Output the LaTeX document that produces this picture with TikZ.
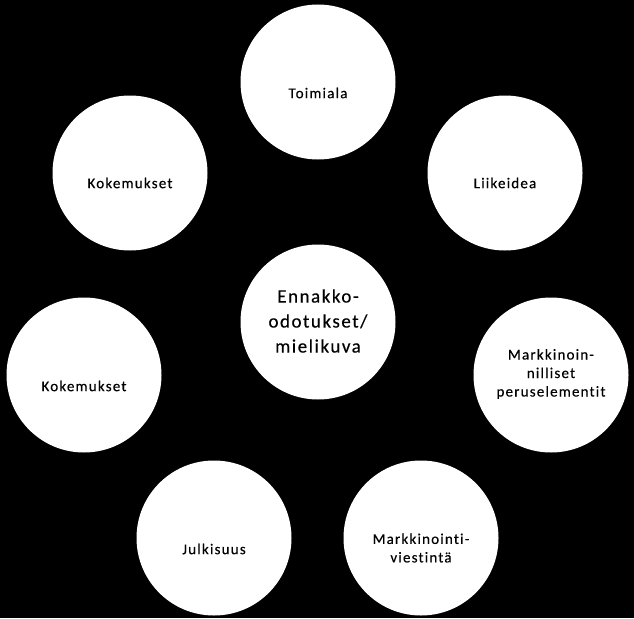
\documentclass[tikz,border=0pt]{standalone}
\usepackage{fontspec}
\setmainfont{Carlito}[LetterSpace=8,Ligatures=NoCommon,FakeBold=0.3]
\tikzstyle{ympyra}=[circle,fill=white,minimum size=155pt,inner sep=0pt]
\tikzstyle{teksti}=[font=\fontsize{15}{18.5}\selectfont,align=center,text=black,inner sep=0pt]
\tikzstyle{keskiteksti}=[font=\fontsize{19}{25}\selectfont,align=center,text=black,inner sep=0pt]

\begin{document}
\begin{tikzpicture}[x=1pt,y=-1pt]
    \fill[black] (0,0) rectangle (634,618);
    % ympyrat
    \node[ympyra] (toimiala) at (318,82) {};
    \node[ympyra] (kokemukset1) at (130,173) {};
    \node[ympyra] (liikeidea) at (505,173) {};
    \node[ympyra] (keski) at (318,322) {};
    \node[ympyra] (kokemukset2) at (84,375) {};
    \node[ympyra] (markkinoin) at (551,375) {};
    \node[ympyra] (julkisuus) at (214,538) {};
    \node[ympyra] (viestinta) at (421,538) {};
    % tekstit
    \node[teksti,yshift=-11pt] (t-toimiala) at (toimiala.center) {Toimiala};
    \node[teksti,yshift=-10pt] (t-kokemukset1) at (kokemukset1.center) {Kokemukset};
    \node[teksti,yshift=-10pt] (t-liikeidea) at (liikeidea.center) {Liikeidea};
    \node[keskiteksti,yshift=1pt] (t-keski) at (keski.center) {Ennakko-\\odotukset/\\mielikuva};
    \node[teksti,yshift=-11pt] (t-kokemukset2) at (kokemukset2.center) {Kokemukset};
    \node[teksti,yshift=1pt] (t-markkinoin) at (markkinoin.center) {Markkinoin-\\nilliset\\peruselementit};
    \node[teksti,yshift=-11pt] (t-julkisuus) at (julkisuus.center) {Julkisuus};
    \node[teksti,yshift=-10pt] (t-viestinta) at (viestinta.center) {Markkinointi-\\viestintä};
\end{tikzpicture}
\end{document}
